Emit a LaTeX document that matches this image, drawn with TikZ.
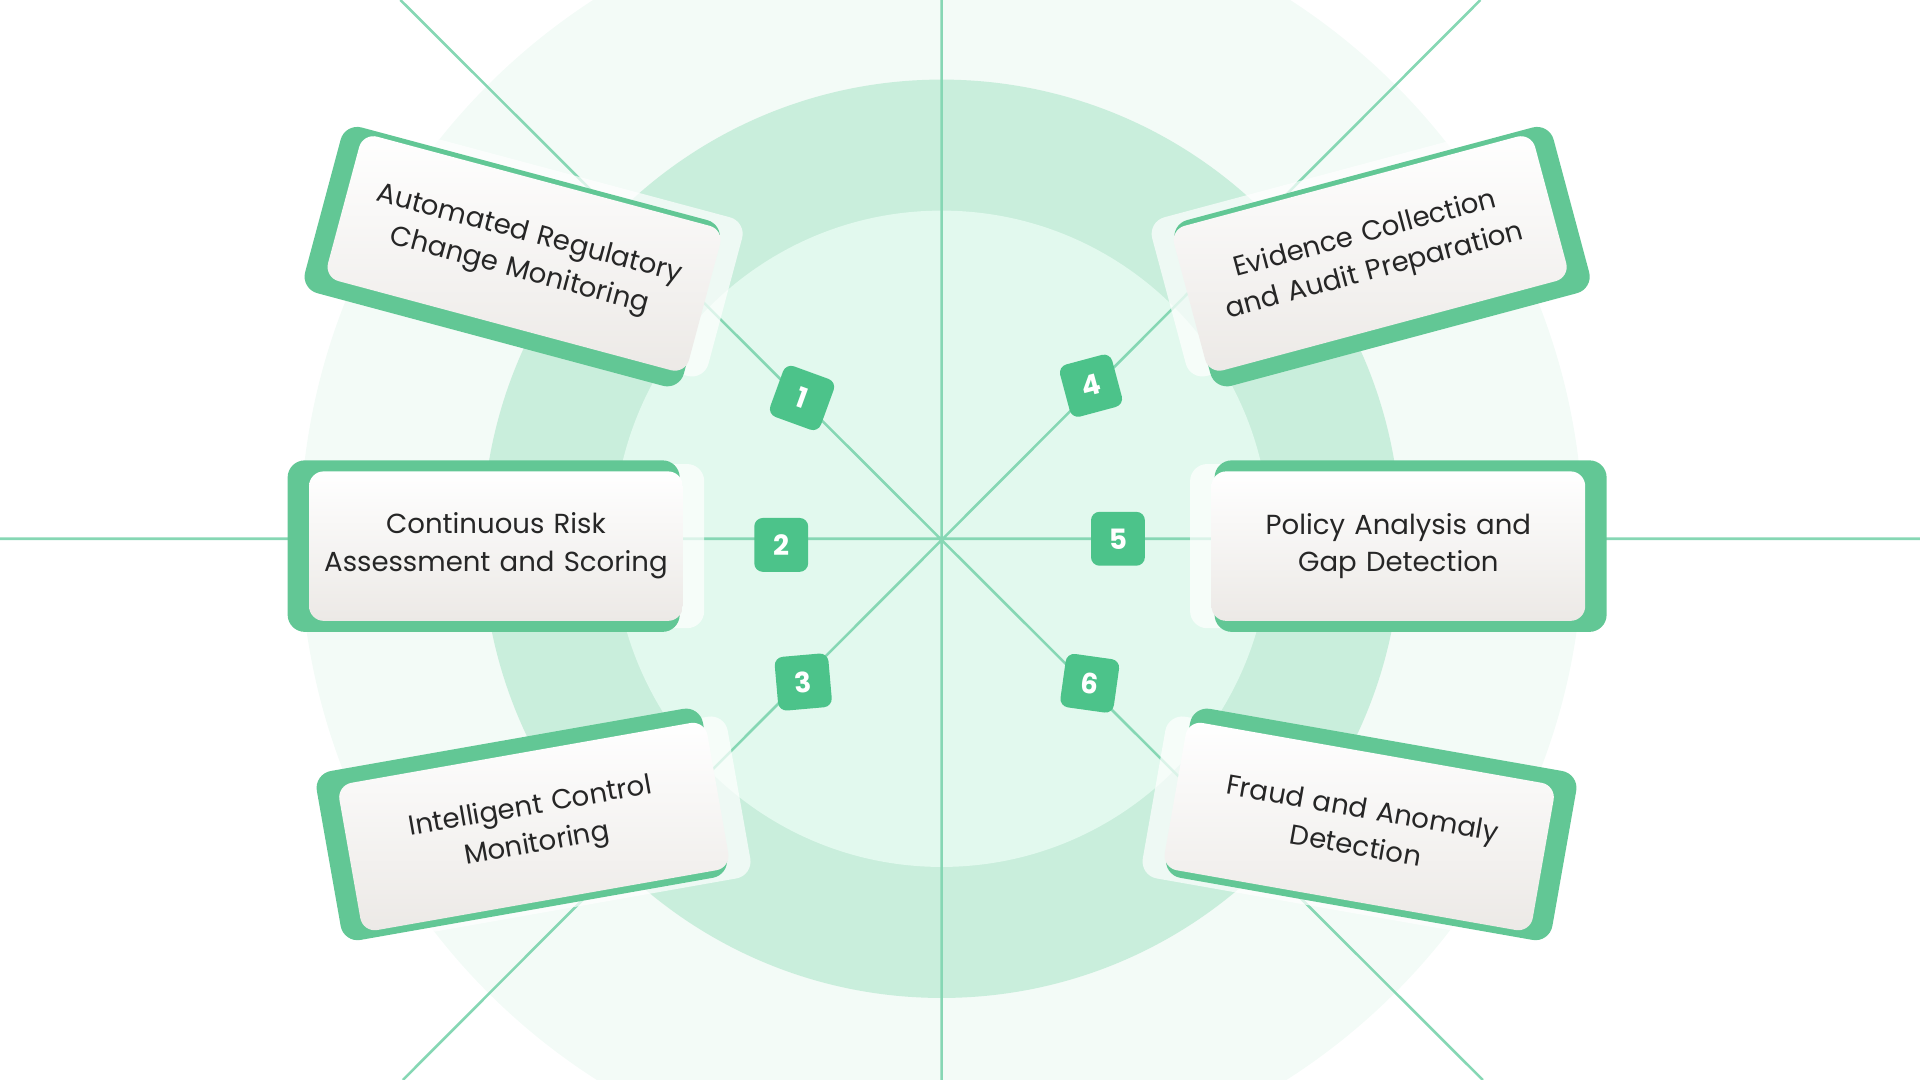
\documentclass[tikz,border=0pt]{standalone}
\usepackage{fontspec}
\setmainfont{Poppins}
\usetikzlibrary{positioning}
\definecolor{ringout}{HTML}{F3FBF7}
\definecolor{ringmid}{HTML}{C9EEDC}
\definecolor{ringin}{HTML}{E2F9EE}
\definecolor{spoke}{HTML}{86D7B4}
\definecolor{badge}{HTML}{4CC38A}
\definecolor{back}{HTML}{62C795}
\definecolor{cardlow}{HTML}{ECE9E6}

\tikzset{
 card/.style={rounded corners=0.12cm, minimum width=3.05cm, minimum height=1.22cm,
   top color=white, bottom color=cardlow, text width=2.95cm, align=center, inner sep=0pt,
   font=\fontsize{6.4}{8.8}\selectfont, text=black!85},
 backing/.style={rounded corners=0.14cm, fill=back, minimum width=3.2cm, minimum height=1.4cm},
 glow/.style={rounded corners=0.14cm, fill=white, opacity=0.7, minimum width=3.2cm, minimum height=1.34cm},
 num/.style={rounded corners=0.07cm, fill=badge, text=white, minimum size=0.44cm, inner sep=0pt,
   font=\fontsize{6.5}{8}\selectfont\bfseries}
}

\begin{document}
\begin{tikzpicture}[x=0.01cm,y=-0.01cm]
\useasboundingbox (0,0) rectangle (1568,882);
\clip (0,0) rectangle (1568,882);
\coordinate (c) at (769,440);
\fill[ringout] (c) circle (524);
\fill[ringmid] (c) circle (375);
\fill[ringin] (c) circle (268);

% spokes
\coordinate (n) at (769,0);
\coordinate (s) at (769,882);
\coordinate (w) at (0,440);
\coordinate (e) at (1568,440);
\coordinate (nw) at (327,0);
\coordinate (se) at (1211,882);
\coordinate (ne) at (1209,0);
\coordinate (sw) at (329,882);
\draw[spoke, line width=0.6pt] (n) -- (s) (w) -- (e) (nw) -- (se) (ne) -- (sw);

% cards
\newcommand{\card}[6]{%
 \node[glow, rotate=#4] at ([shift={(#4:-#5)}]#2,#3) {};
 \node[backing, rotate=#4] at ([shift={(#4:#5)}]#2,#3) {};
 \node[card, rotate=#4] (#1) at (#2,#3) {#6};}
\card{monitor}{428}{207}{-15}{-10}{Automated Regulatory\\Change Monitoring}
\card{risk}{405}{446}{0}{-10}{Continuous Risk\\Assessment and Scoring}
\card{control}{436}{675}{10}{-10}{Intelligent Control\\Monitoring}
\card{evidence}{1119}{207}{15}{10}{Evidence Collection\\and Audit Preparation}
\card{policy}{1142}{446}{0}{10}{Policy Analysis and\\Gap Detection}
\card{fraud}{1110}{675}{-10}{10}{Fraud and Anomaly\\Detection}

% badges
\node[num, rotate=-20] (b1) at (655,325) {1};
\node[num] (b2) at (638,445) {2};
\node[num, rotate=5] (b3) at (656,557) {3};
\node[num, rotate=15] (b4) at (891,315) {4};
\node[num] (b5) at (913,440) {5};
\node[num, rotate=-8] (b6) at (890,558) {6};
\end{tikzpicture}
\end{document}
